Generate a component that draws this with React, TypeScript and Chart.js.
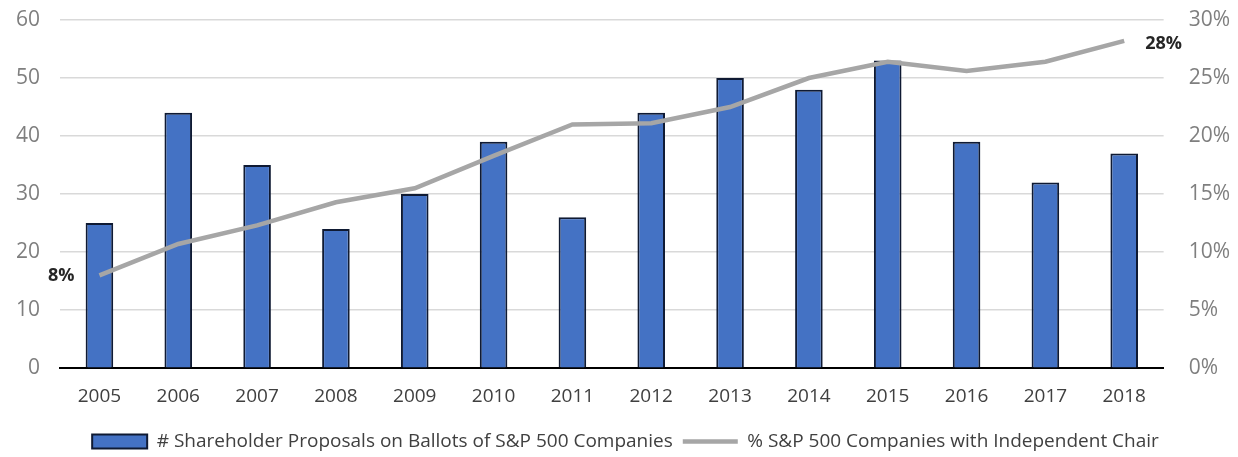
import React, { useEffect, useRef } from "react";
import { Chart, registerables } from "chart.js";

Chart.register(...registerables);

const years = ["2005", "2006", "2007", "2008", "2009", "2010", "2011", "2012", "2013", "2014", "2015", "2016", "2017", "2018"];
const proposals = [25, 44, 35, 24, 30, 39, 26, 44, 50, 48, 53, 39, 32, 37];
const independentChairPct = [8, 10.7, 12.3, 14.3, 15.5, 18.3, 21, 21.1, 22.5, 25, 26.4, 25.6, 26.4, 28.2];
const endLabels = ["8%", "28%"];
const proposalsLabel = "# Shareholder Proposals on Ballots of S&P 500 Companies";
const chairLabel = "% S&P 500 Companies with Independent Chair";

const FONT = "'Open Sans', sans-serif";

const endLabelPlugin = {
  id: "endLabels",
  afterDatasetsDraw(chart: any) {
    const meta = chart.getDatasetMeta(1);
    if (!meta || !meta.data.length) return;
    const ctx = chart.ctx;
    const first = meta.data[0];
    const last = meta.data[meta.data.length - 1];
    ctx.save();
    ctx.font = `bold 18px ${FONT}`;
    ctx.fillStyle = "#262626";
    ctx.textBaseline = "middle";
    ctx.textAlign = "right";
    ctx.fillText(endLabels[0], first.x - 25, first.y + 1);
    ctx.textAlign = "left";
    ctx.fillText(endLabels[1], last.x + 21, last.y + 3);
    ctx.restore();
  },
};

const noPad = (scale: any) => {
  scale.paddingTop = 0;
  scale.paddingBottom = 0;
  scale.paddingLeft = 0;
  scale.paddingRight = 0;
};

export default function App() {
  const ref = useRef<HTMLCanvasElement | null>(null);
  useEffect(() => {
    if (!ref.current) return;
    const chart = new Chart(ref.current, {
      type: "bar",
      data: {
        labels: years,
        datasets: [
          {
            type: "bar",
            label: proposalsLabel,
            data: proposals,
            backgroundColor: "#4472C4",
            borderColor: "#0f1a33",
            borderWidth: 2,
            borderSkipped: "bottom",
            barPercentage: 0.7,
            categoryPercentage: 0.5,
            yAxisID: "y",
            order: 2,
            pointStyle: "rect",
          } as any,
          {
            type: "line",
            label: chairLabel,
            data: independentChairPct,
            borderColor: "#A6A6A6",
            backgroundColor: "#A6A6A6",
            borderWidth: 4.5,
            pointRadius: 0,
            tension: 0,
            yAxisID: "y1",
            order: 1,
            pointStyle: "line",
          } as any,
        ],
      },
      options: {
        animation: false,
        responsive: true,
        maintainAspectRatio: false,
        layout: { padding: { top: 20, left: -4, right: -17, bottom: -4 } },
        plugins: {
          tooltip: { enabled: false },
          legend: {
            position: "bottom",
            labels: {
              usePointStyle: true,
              pointStyleWidth: 55,
              boxHeight: 14,
              padding: 10,
              color: "#404040",
              font: { family: FONT, size: 19 },
              sort: (a: any, b: any) => a.datasetIndex - b.datasetIndex,
            },
          },
        },
        scales: {
          x: {
            grid: { display: false },
            border: { display: true, color: "#000", width: 2 },
            ticks: { color: "#404040", font: { family: FONT, size: 19 }, padding: 9 },
            afterFit: (scale: any) => {
              noPad(scale);
              scale.height = scale.height + 5;
            },
          },
          y: {
            position: "left",
            min: 0,
            max: 60,
            ticks: { stepSize: 10, color: "#7f7f7f", font: { family: FONT, size: 21 }, padding: 20 },
            grid: { color: "#d9d9d9", lineWidth: 1.5, drawTicks: false },
            border: { display: false },
            afterFit: noPad,
          },
          y1: {
            position: "right",
            min: 0,
            max: 30,
            ticks: {
              stepSize: 5,
              color: "#7f7f7f",
              font: { family: FONT, size: 21 },
              padding: 25,
              callback: (v: any) => `${v}%`,
            },
            grid: { drawOnChartArea: false, drawTicks: false },
            border: { display: false },
            afterFit: noPad,
          },
        },
      },
      plugins: [endLabelPlugin],
    });
    return () => chart.destroy();
  }, []);
  return (
    <div style={{ position: "absolute", left: 0, top: 0, width: 1238, height: 457 }}>
      <canvas ref={ref} />
    </div>
  );
}
